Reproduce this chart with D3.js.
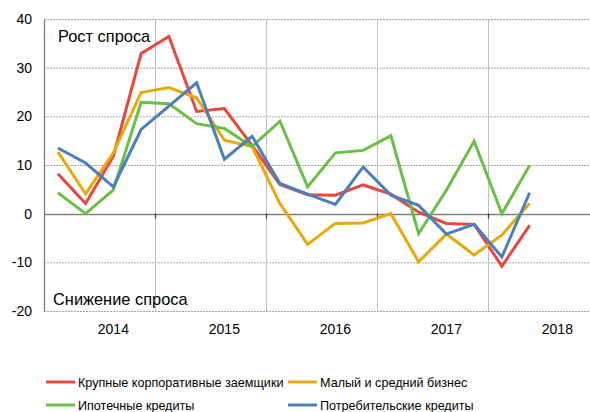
<!DOCTYPE html>
<html>
<head>
<meta charset="utf-8">
<script src="https://cdn.jsdelivr.net/npm/d3@7"></script>
<style>
  body { margin: 0; background: #fff; }
  text { font-family: "Liberation Sans", Arial, sans-serif; fill: #000; }
</style>
</head>
<body>
<div id="chart"></div>
<script>
// quarters from III 2013 to II 2018 (last two have no data yet)
var quarters = ["III 2013", "IV 2013",
	"I 2014", "II 2014", "III 2014", "IV 2014",
	"I 2015", "II 2015", "III 2015", "IV 2015",
	"I 2016", "II 2016", "III 2016", "IV 2016",
	"I 2017", "II 2017", "III 2017", "IV 2017",
	"I 2018", "II 2018"];

var yTicks = [-20, -10, 0, 10, 20, 30, 40];

var seriesNames = ["Крупные корпоративные заемщики", "Малый и средний бизнес",
	"Ипотечные кредиты", "Потребительские кредиты"];

var corporate = [8.2, 2.1, 11.8, 32.9, 36.4, 21.0, 21.6, 14.0, 6.0, 3.9, 3.8, 5.9, 4.0, 0.3, -2.0, -2.2, -10.8, -2.4];
var smallBiz = [12.7, 4.1, 12.5, 24.9, 25.9, 23.8, 15.1, 13.8, 2.1, -6.3, -2.0, -1.9, 0.0, -9.9, -4.2, -8.5, -4.4, 2.1];
var mortgage = [4.3, 0.0, 4.9, 22.9, 22.6, 18.5, 17.5, 13.8, 19.0, 5.5, 12.5, 13.0, 16.0, -4.1, 4.8, 14.9, 0.0, 9.9];
var consumer = [13.5, 10.4, 5.5, 17.3, 22.1, 26.9, 11.2, 15.9, 6.2, 4.0, 1.9, 9.6, 3.8, 1.7, -4.2, -2.2, -8.9, 4.3];

var colors = ["#e8483c", "#e8a90c", "#6abf46", "#4a7ebd"];
var allSeries = [corporate, smallBiz, mortgage, consumer];

var width = 590, height = 412;

var svg = d3.select("#chart").append("svg")
	.attr("width", width)
	.attr("height", height);

//x is a band per quarter, plot runs past the right edge like in the picture
var x = d3.scaleBand().domain(d3.range(quarters.length)).range([44, 599]);
var y = d3.scaleLinear().domain([-20, 40]).range([311, 19]);

//horizontal dotted gridlines
svg.selectAll(".hgrid").data(yTicks.filter(function (d) { return d != 0; })).enter().append("line")
	.attr("x1", 44).attr("x2", width)
	.attr("y1", function (d) { return y(d) + 0.5; })
	.attr("y2", function (d) { return y(d) + 0.5; })
	.attr("stroke", "#a6a6a6")
	.attr("stroke-width", 1)
	.attr("stroke-dasharray", "2,1");

//year boundaries every 4 quarters (between IV and I... shifted like the original)
var bounds = [4, 8, 12, 16];
svg.selectAll(".vgrid").data(bounds).enter().append("line")
	.attr("x1", function (d) { return Math.round(x(d)) + 0.5; })
	.attr("x2", function (d) { return Math.round(x(d)) + 0.5; })
	.attr("y1", y(40)).attr("y2", y(-20))
	.attr("stroke", "#bfbfbf")
	.attr("stroke-width", 1);

//zero line with small ticks
svg.append("line")
	.attr("x1", 44).attr("x2", width)
	.attr("y1", Math.round(y(0)) + 0.5).attr("y2", Math.round(y(0)) + 0.5)
	.attr("stroke", "#7f7f7f").attr("stroke-width", 1.3);
svg.selectAll(".xtick").data(bounds).enter().append("line")
	.attr("x1", function (d) { return Math.round(x(d)) + 0.5; })
	.attr("x2", function (d) { return Math.round(x(d)) + 0.5; })
	.attr("y1", y(0)).attr("y2", y(0) + 5)
	.attr("stroke", "#404040").attr("stroke-width", 1.3);

//left axis, plain hyphen for negatives
var yAxis = d3.axisLeft(y).tickValues(yTicks).tickSize(0).tickPadding(12)
	.tickFormat(function (d) { return String(d); });
var gy = svg.append("g").attr("transform", "translate(44,0)").call(yAxis);
gy.select(".domain").attr("stroke", "#7f7f7f").attr("stroke-width", 1.3);
gy.selectAll("text")
	.style("font-family", "Liberation Sans, Arial, sans-serif")
	.style("font-size", "14px")
	.attr("fill", "#000");

//year labels under the first quarter of each year
svg.selectAll(".year").data(quarters.filter(function (q) { return q.indexOf("I ") == 0; })).enter().append("text")
	.attr("x", function (d) { return x(quarters.indexOf(d)) + x.bandwidth() / 2; })
	.attr("y", 334)
	.attr("text-anchor", "middle")
	.style("font-size", "14px")
	.text(function (d) { return d.split(" ")[1]; });

//lines
var line = d3.line()
	.x(function (d, i) { return x(i) + x.bandwidth() / 2; })
	.y(function (d) { return y(d); });

svg.selectAll(".series").data(allSeries).enter().append("path")
	.attr("d", function (d) { return line(d); })
	.attr("fill", "none")
	.attr("stroke", function (d, i) { return colors[i]; })
	.attr("stroke-width", 3)
	.attr("stroke-linejoin", "miter");

//labels inside plot
svg.append("text").attr("x", 58).attr("y", 42).style("font-size", "16.4px").text("Рост спроса");
svg.append("text").attr("x", 53).attr("y", 305).style("font-size", "16.4px").text("Снижение спроса");

//legend
var legendPos = [[46, 382], [288, 382], [46, 405], [288, 405]];
var legend = svg.selectAll(".legend").data(seriesNames).enter().append("g")
	.attr("transform", function (d, i) { return "translate(" + legendPos[i][0] + "," + legendPos[i][1] + ")"; });
legend.append("line")
	.attr("x1", 0).attr("x2", 29).attr("y1", 0).attr("y2", 0)
	.attr("stroke", function (d, i) { return colors[i]; })
	.attr("stroke-width", 3);
legend.append("text")
	.attr("x", 32).attr("y", 4.5)
	.style("font-size", "12.6px")
	.text(function (d) { return d; });
</script>
</body>
</html>
